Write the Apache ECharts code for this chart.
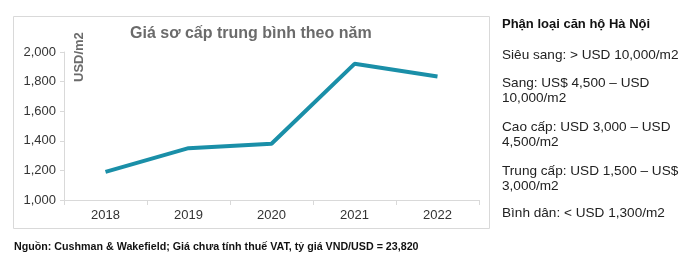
<!DOCTYPE html>
<html><head><meta charset="utf-8">
<script src="https://cdn.jsdelivr.net/npm/echarts@6/dist/echarts.min.js"></script>
<style>html,body{margin:0;padding:0;background:#fff}#c{width:684px;height:270px}</style>
</head><body><div id="c"></div>
<script>
var years = ['2018','2019','2020','2021','2022'];
var prices = [1190, 1350, 1380, 1920, 1835];
var yTicks = [1000, 1200, 1400, 1600, 1800, 2000];
var chartTitle = 'Giá sơ cấp trung bình theo năm';
var unitLabel = 'USD/m2';
var sourceNote = 'Nguồn: Cushman & Wakefield; Giá chưa tính thuế VAT, tỷ giá VND/USD = 23,820';
var panelTitle = 'Phận loại căn hộ Hà Nội';
var panelLines = [
  ['Siêu sang: > USD 10,000/m2'],
  ['Sang: US$ 4,500 – USD', '10,000/m2'],
  ['Cao cấp: USD 3,000 – USD', '4,500/m2'],
  ['Trung cấp: USD 1,500 – US$', '3,000/m2'],
  ['Bình dân: < USD 1,300/m2']
];
var FONT = 'Liberation Sans, Arial, sans-serif';
var chart = echarts.init(document.getElementById('c'));
var graphics = [
  {type:'rect', shape:{x:13.5,y:16.5,width:476,height:212}, style:{fill:'none',stroke:'#d9d9d9',lineWidth:1}, silent:true},
  {type:'text', x:130, y:26, style:{text:chartTitle, font:'bold 16px '+FONT, fill:'#6b6b6b'}},
  {type:'text', x:73, y:82, rotation:Math.PI/2, style:{text:unitLabel, font:'bold 13px '+FONT, fill:'#6b6b6b'}},
  {type:'text', x:14, y:242, style:{text:sourceNote, font:'bold 10.7px '+FONT, fill:'#111'}},
  {type:'text', x:502, y:18, style:{text:panelTitle, font:'bold 13px '+FONT, fill:'#111'}}
];
var ys = [48, 76, 120, 164, 206];
panelLines.forEach(function(lines, i){
  graphics.push({type:'text', x:502, y:ys[i], style:{text:lines.join('\n'), font:'13.6px '+FONT, fill:'#222', lineHeight:15}});
});
chart.setOption({
  animation:false,
  grid:{left:64, right:205, top:52, bottom:70},
  xAxis:{type:'category', data:years, boundaryGap:true,
    axisLine:{lineStyle:{color:'#d9d9d9'}},
    axisTick:{show:true, alignWithLabel:false, length:5, lineStyle:{color:'#d9d9d9'}},
    axisLabel:{color:'#333', fontSize:13, fontFamily:FONT, margin:9}},
  yAxis:{type:'value', min:yTicks[0], max:yTicks[yTicks.length-1], interval:200,
    axisLine:{show:true, lineStyle:{color:'#d9d9d9'}},
    axisTick:{show:true, length:4, lineStyle:{color:'#d9d9d9'}},
    splitLine:{show:false},
    axisLabel:{color:'#333', fontSize:13, fontFamily:FONT, margin:8,
      formatter:function(v){return v.toLocaleString('en-US');}}},
  series:[{type:'line', data:prices, symbol:'none', lineStyle:{color:'#1a8fa8', width:4}}],
  graphic:graphics
});
</script></body></html>
